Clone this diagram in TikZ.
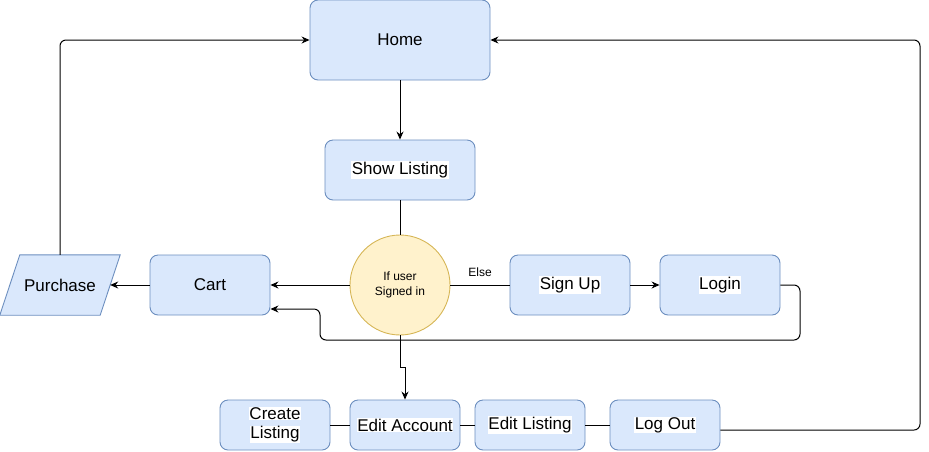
\documentclass[tikz,border=0pt]{standalone}
\usepackage{fontspec}
\setmainfont{Liberation Sans}
\usetikzlibrary{arrows.meta,calc,shapes.geometric}
\definecolor{bfill}{HTML}{DAE8FC}
\definecolor{bdraw}{HTML}{6C8EBF}
\definecolor{yfill}{HTML}{FFF2CC}
\definecolor{ydraw}{HTML}{D6B656}
\newcommand\hlt[1]{{\setlength\fboxsep{0.6pt}\colorbox{white}{#1}}}
\tikzset{
  box/.style={draw=bdraw, fill=bfill, rounded corners=8pt, line width=0.9pt,
    font=\fontsize{17}{20}\selectfont, align=center, inner sep=0pt},
  conn/.style={line width=1pt, rounded corners=6pt},
  arr/.style={conn, -{Stealth[length=8pt,width=7pt]}},
}
\begin{document}
\begin{tikzpicture}[x=1pt,y=-1pt]
\useasboundingbox (0,0) rectangle (929,451);
\node[box, minimum width=180pt, minimum height=80pt] (home) at (400,40) {Home};
\node[box, minimum width=150pt, minimum height=60pt] (show) at (400,170) {\hlt{Show Listing}};
\node[circle, draw=ydraw, fill=yfill, line width=0.9pt, minimum size=100pt, inner sep=0pt,
  align=center, font=\fontsize{12}{15}\selectfont] (cond) at (400,285) {If user\\Signed in};
\node[box, minimum width=120pt, minimum height=60pt] (cart) at (210,285) {Cart};
\node[minimum width=120pt, minimum height=60pt, inner sep=0pt] (purch) at (60,285) {};
\draw[draw=bdraw, fill=bfill, line width=0.9pt]
  ($(purch.north west)+(20,0)$) -- (purch.north east) -- ($(purch.south east)+(-20,0)$)
  -- (purch.south west) -- cycle;
\node[font=\fontsize{17}{20}\selectfont] (purchlbl) at (purch.center) {Purchase};
\node[box, minimum width=120pt, minimum height=60pt] (signup) at (570,285) {\hlt{Sign Up}};
\node[box, minimum width=120pt, minimum height=60pt] (login) at (720,285) {\hlt{Login}};
\node[box, minimum width=110pt, minimum height=50pt] (create) at (275,425) {\hlt{Create}\\[-1pt]\hlt{Listing}};
\node[box, minimum width=110pt, minimum height=50pt] (editacc) at (405,425) {\hlt{Edit Account}};
\node[box, minimum width=110pt, minimum height=50pt] (editlist) at (530,425) {\hlt{Edit Listing}};
\node[box, minimum width=110pt, minimum height=50pt] (logout) at (665,425) {\hlt{Log Out}};
\coordinate (purchin) at ($(purch.east)+(-10,0)$);
\coordinate (cartlow) at ($(cart.east)+(0,24)$);
\coordinate (logoutout) at ($(logout.east)+(0,5)$);
\coordinate (rightcol) at (920,40);
\coordinate (loopr) at (800,340);
\coordinate (loopl) at (320,340);
\coordinate (jog) at (400,367);
% connectors
\draw[arr] (home.south) -- (show.north);
\draw[conn] (show.south) -- (cond.north);
\draw[arr] (cond.west) -- (cart.east);
\draw[conn] (cond.east) -- node[above=5pt, font=\fontsize{12}{14}\selectfont] (elselbl) {Else} (signup.west);
\draw[arr] (signup.east) -- (login.west);
\draw[arr] (login.east) -| (loopr) -- (loopl) |- (cartlow);
\draw[arr, rounded corners=0pt] (cond.south) -- (jog) -| (editacc.north);
\draw[arr] (cart.west) -- (purchin);
\draw[arr] (purch.north) |- (home.west);
\draw[arr] (logoutout) -| (rightcol) -- (home.east);
\draw[conn] (create.east) -- (editacc.west);
\draw[conn] (editacc.east) -- (editlist.west);
\draw[conn] (editlist.east) -- (logout.west);
\end{tikzpicture}
\end{document}
